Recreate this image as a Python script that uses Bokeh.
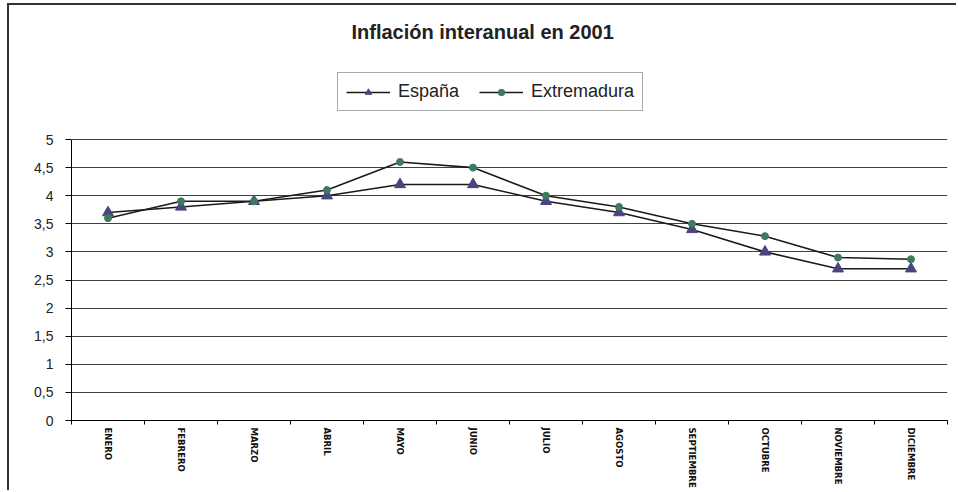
from bokeh.plotting import figure
from bokeh.models import FixedTicker, Range1d, Legend, LegendItem, Title
from bokeh.embed import file_html
from bokeh.resources import INLINE

months = ["ENERO", "FEBRERO", "MARZO", "ABRIL", "MAYO", "JUNIO", "JULIO",
          "AGOSTO", "SEPTIEMBRE", "OCTUBRE", "NOVIEMBRE", "DICIEMBRE"]
espana = [3.7, 3.8, 3.9, 4.0, 4.2, 4.2, 3.9, 3.7, 3.4, 3.0, 2.7, 2.7]
extremadura = [3.6, 3.9, 3.9, 4.1, 4.6, 4.5, 4.0, 3.8, 3.5, 3.28, 2.9, 2.87]
y_ticks = [0, 0.5, 1, 1.5, 2, 2.5, 3, 3.5, 4, 4.5, 5]
y_tick_labels = ["0", "0,5", "1", "1,5", "2", "2,5", "3", "3,5", "4", "4,5", "5"]

centers = [i + 0.5 for i in range(len(months))]
bounds = [i for i in range(len(months) + 1)]

# layout (pixels): the plotting frame extends above the value axis so that
# the legend, which is clipped to the frame, can sit inside it
W, H = 949, 487
BORDER_TOP, BORDER_BOTTOM = 50, 72
AXIS_TOP_PX = 134          # pixel row of the value 5
frame_h = H - BORDER_TOP - BORDER_BOTTOM
axis_h = H - BORDER_BOTTOM - AXIS_TOP_PX
y_max = y_ticks[-1]
y_top = y_max * frame_h / axis_h

p = figure(width=W, height=H, output_backend="svg", toolbar_location=None,
           title=None,
           x_range=Range1d(0, len(months)), y_range=Range1d(0, y_top),
           min_border_left=62, min_border_right=11, min_border_top=BORDER_TOP,
           min_border_bottom=BORDER_BOTTOM)
p.styles = {"margin-left": "7px", "margin-top": "3px",
            "border-left": "2px solid #333333", "border-top": "2px solid #333333"}
p.background_fill_color = "white"
p.border_fill_color = "white"
p.outline_line_color = None

# grid
p.xgrid.visible = False
p.ygrid.grid_line_color = "#404040"
p.ygrid.grid_line_width = 1

# y axis
p.yaxis.ticker = FixedTicker(ticks=y_ticks)
p.yaxis.bounds = (y_ticks[0], y_max)
p.yaxis.major_label_overrides = dict(zip(y_ticks, y_tick_labels))
p.yaxis.major_label_text_font = "Liberation Sans"
p.yaxis.major_label_text_font_size = "14px"
p.yaxis.major_label_text_color = "#222222"
p.yaxis.major_tick_out = 6
p.yaxis.major_tick_in = 0
p.yaxis.major_label_standoff = 12
p.yaxis.minor_tick_line_color = None
p.yaxis.axis_line_color = "black"
p.yaxis.major_tick_line_color = "black"

# x axis
p.xaxis.ticker = FixedTicker(ticks=centers, minor_ticks=bounds)
p.xaxis.major_label_overrides = dict(zip(centers, months))
p.xaxis.major_tick_line_color = None
p.xaxis.major_tick_out = 0
p.xaxis.major_tick_in = 0
p.xaxis.minor_tick_out = 4
p.xaxis.minor_tick_in = 0
p.xaxis.minor_tick_line_color = "black"
p.xaxis.axis_line_color = "black"
p.xaxis.major_label_orientation = "vertical"
p.xaxis.major_label_text_font = "DejaVu Sans"
p.xaxis.major_label_text_font_style = "bold"
p.xaxis.major_label_text_font_size = "8.5px"
p.xaxis.major_label_text_color = "#111111"
p.xaxis.major_label_standoff = 3

# series
l1 = p.line(centers, espana, line_color="#1a1a1a", line_width=1.6)
s1 = p.scatter(centers, espana, marker="triangle", size=11,
               fill_color="#4a4580", line_color="#4a4580")
l2 = p.line(centers, extremadura, line_color="#1a1a1a", line_width=1.6)
s2 = p.scatter(centers, extremadura, marker="circle", size=7,
               fill_color="#3d7a5e", line_color="#3d7a5e")

legend = Legend(items=[LegendItem(label="España", renderers=[l1, s1]),
                       LegendItem(label="Extremadura", renderers=[l2, s2])],
                orientation="horizontal", location=(266, 309), margin=0,
                padding=8, spacing=20, glyph_width=44, glyph_height=16,
                label_height=16, label_standoff=8,
                label_text_font="Liberation Sans", label_text_font_size="18px",
                label_text_color="#222222", border_line_color="#555555",
                border_line_width=1, background_fill_color="white",
                background_fill_alpha=1.0)
p.add_layout(legend, "center")

title = Title(text="Inflación interanual en 2001", text_font="Liberation Sans",
              text_font_style="bold", text_font_size="20px",
              text_color="#222222", align="left", offset=280, standoff=25)
p.add_layout(title, "above")

open("out.html", "w").write(file_html(p, INLINE))
